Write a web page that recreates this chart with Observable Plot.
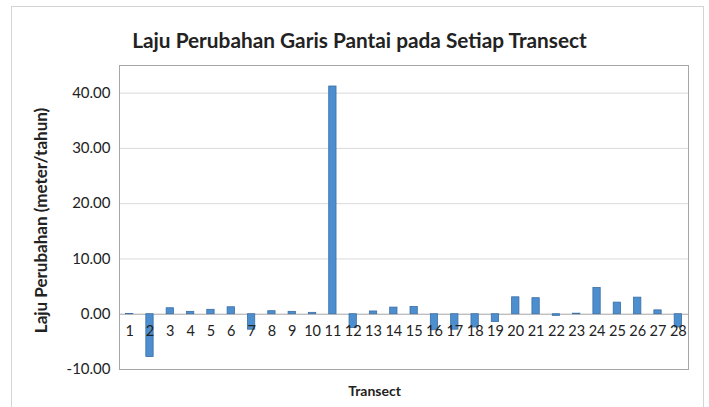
<!DOCTYPE html>
<html>
<head>
<meta charset="utf-8">
<script src="https://cdn.jsdelivr.net/npm/d3@7"></script>
<script src="https://cdn.jsdelivr.net/npm/@observablehq/plot@0.6"></script>
<style>
  html, body { margin: 0; padding: 0; background: #fff; }
  #wrap { position: relative; width: 709px; height: 407px; overflow: hidden; }
  #border { position: absolute; left: 11px; top: 6px; width: 693px; height: 420px; border: 1px solid #d4d4d4; box-sizing: border-box; pointer-events: none; }
  #chart svg { display: block; }
</style>
</head>
<body>
<div id="wrap"><div id="chart"></div><div id="border"></div></div>
<script>
const title = "Laju Perubahan Garis Pantai pada Setiap Transect";
const yLabel = "Laju Perubahan (meter/tahun)";
const xLabel = "Transect";
const transects = ["1","2","3","4","5","6","7","8","9","10","11","12","13","14","15","16","17","18","19","20","21","22","23","24","25","26","27","28"];
const rates = [0.05, -7.75, 1.08, 0.43, 0.8, 1.26, -2.8, 0.55, 0.43, 0.25, 41.2, -2.5, 0.5, 1.2, 1.3, -2.9, -2.8, -2.4, -1.4, 3.06, 2.9, -0.3, 0.1, 4.75, 2.1, 3.0, 0.7, -2.4];
const yTicks = [-10, 0, 10, 20, 30, 40];

const data = transects.map((t, i) => ({transect: t, rate: rates[i]}));
const font = "Lato, 'Open Sans', sans-serif";
const fmt = d => d3.format(".2f")(d).replace("\u2212", "-");

const chart = Plot.plot({
  width: 709,
  height: 407,
  marginLeft: 119,
  marginRight: 21,
  marginTop: 65,
  marginBottom: 38,
  style: {fontFamily: font, fontSize: "14px", color: "#222", background: "#fff"},
  x: {domain: transects, paddingInner: 0.64, paddingOuter: 0.32, round: false, axis: null},
  y: {domain: [-10, 45], axis: null},
  marks: [
    Plot.gridY(yTicks.filter(d => d !== 0), {stroke: "#d9d9d9", strokeOpacity: 1}),
    Plot.ruleY([0], {stroke: "#a6a6a6"}),
    Plot.frame({stroke: "#a6a6a6"}),
    Plot.barY(data, {x: "transect", y: "rate", fill: "#4d8ecf", stroke: "#3a6ea5", strokeWidth: 0.8}),
    Plot.text(data, {x: "transect", y: () => 0, text: "transect", dy: 17, fontSize: 14.5, fill: "#222"}),
    Plot.axisY({ticks: yTicks, tickFormat: fmt, tickSize: 0, tickPadding: 9, fontSize: 15, label: null}),
    Plot.text([title], {frameAnchor: "top", dx: -44.5, dy: -32, fontSize: 20.8, fontWeight: "bold", fill: "#222"}),
    Plot.text([yLabel], {frameAnchor: "left", textAnchor: "middle", dx: -78, dy: 3, rotate: -90, fontSize: 17, fontWeight: "bold", fill: "#222"}),
    Plot.text([xLabel], {frameAnchor: "bottom", dx: -29.5, dy: 26, fontSize: 14, fontWeight: "bold", fill: "#222"})
  ]
});
document.getElementById("chart").appendChild(chart);
</script>
</body>
</html>
